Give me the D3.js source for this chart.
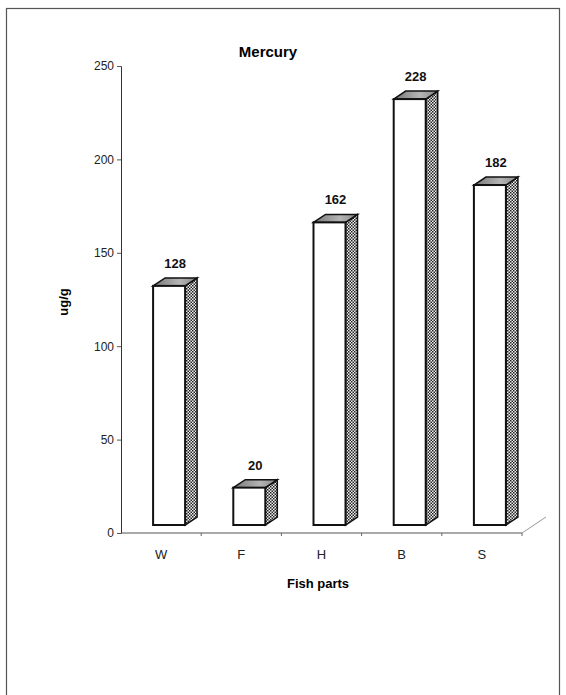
<!DOCTYPE html>
<html>
<head>
<meta charset="utf-8">
<script src="https://cdn.jsdelivr.net/npm/d3@7/dist/d3.min.js"></script>
<style>
  html, body { margin: 0; padding: 0; background: #fff; }
  svg { display: block; font-family: Arial, "Liberation Sans", sans-serif; }
</style>
</head>
<body>
<svg id="chart" width="566" height="695"></svg>
<script>
// Mercury concentration by fish part
const categories = ["W", "F", "H", "B", "S"];
const values = [128, 20, 162, 228, 182];
const yTicks = [0, 50, 100, 150, 200, 250];

const svg = d3.select("#chart");

// pseudo-3D geometry
const depthX = 12, depthY = 8;

const x = d3.scaleBand().domain(categories).range([121, 522]);
const y = d3.scaleLinear().domain([0, 250]).range([533, 66]);

// outer frame
svg.append("rect")
  .attr("x", 6.5).attr("y", 8.5).attr("width", 553).attr("height", 700)
  .attr("fill", "none").attr("stroke", "#555").attr("stroke-width", 1.2);

const defs = svg.append("defs");
const pat = defs.append("pattern")
  .attr("id", "checker").attr("patternUnits", "userSpaceOnUse")
  .attr("width", 3).attr("height", 3);
pat.append("rect").attr("width", 3).attr("height", 3).attr("fill", "#eee");
pat.append("rect").attr("width", 1.5).attr("height", 1.5).attr("fill", "#222");
pat.append("rect").attr("x", 1.5).attr("y", 1.5).attr("width", 1.5).attr("height", 1.5).attr("fill", "#222");

const topGrad = defs.append("linearGradient").attr("id", "topface")
  .attr("x1", 0).attr("x2", 1).attr("y1", 0).attr("y2", 0);
topGrad.append("stop").attr("offset", "0%").attr("stop-color", "#777");
topGrad.append("stop").attr("offset", "60%").attr("stop-color", "#b5b5b5");
topGrad.append("stop").attr("offset", "100%").attr("stop-color", "#888");

// title
svg.append("text")
  .attr("x", 268).attr("y", 57)
  .attr("text-anchor", "middle")
  .attr("font-size", 15).attr("font-weight", "bold")
  .text("Mercury");

// y axis
const yAxis = d3.axisLeft(y).tickValues(yTicks).tickSize(4).tickPadding(3);
const gy = svg.append("g").attr("transform", "translate(121,0)").call(yAxis);
gy.select(".domain").attr("stroke", "#333");
gy.selectAll(".tick line").attr("stroke", "#555");
gy.selectAll(".tick text").attr("font-size", 12).attr("fill", "#222")
  .attr("font-family", "Arial, 'Liberation Sans', sans-serif");

// x axis
const gx = svg.append("g").attr("transform", "translate(0,533)");
gx.append("line").attr("x1", 121).attr("x2", 522).attr("y1", 0).attr("y2", 0)
  .attr("stroke", "#555").attr("stroke-width", 1.2);
categories.forEach(c => {
  const bx = x(c) + x.bandwidth();
  gx.append("line").attr("x1", bx).attr("x2", bx).attr("y1", 0).attr("y2", 3)
    .attr("stroke", "#666");
});
gx.selectAll("text.cat").data(categories).join("text")
  .attr("class", "cat")
  .attr("x", d => x(d) + x.bandwidth() / 2)
  .attr("y", 26)
  .attr("text-anchor", "middle")
  .attr("font-size", 13).attr("fill", "#222")
  .text(d => d);

// floor edge receding from the end of the x axis
svg.append("line")
  .attr("x1", 522).attr("y1", 533).attr("x2", 546).attr("y2", 517)
  .attr("stroke", "#999").attr("stroke-width", 1);

// axis titles
svg.append("text")
  .attr("transform", "translate(68,302) rotate(-90)")
  .attr("text-anchor", "middle")
  .attr("font-size", 13).attr("font-weight", "bold")
  .text("ug/g");
svg.append("text")
  .attr("x", 318).attr("y", 588)
  .attr("text-anchor", "middle")
  .attr("font-size", 13).attr("font-weight", "bold")
  .text("Fish parts");

// bars
const barW = 32;
const frontBase = y(0) - depthY;
const bars = svg.append("g");
categories.forEach((c, i) => {
  const v = values[i];
  const x0 = x(c) + x.bandwidth() / 2 - 8;
  const x1 = x0 + barW;
  const yt = y(v) - depthY;
  const g = bars.append("g");

  // value label (drawn first so a short bar's top can overlap it)
  g.append("text")
    .attr("x", x0 + (barW + depthX) / 2)
    .attr("y", yt - depthY - 10)
    .attr("text-anchor", "middle")
    .attr("font-size", 13).attr("font-weight", "bold").attr("fill", "#111")
    .text(v);

  // side face
  g.append("path")
    .attr("d", `M${x1},${yt} L${x1 + depthX},${yt - depthY} L${x1 + depthX},${frontBase - depthY} L${x1},${frontBase} Z`)
    .attr("fill", "url(#checker)").attr("stroke", "#111").attr("stroke-width", 1.5);
  // top face
  g.append("path")
    .attr("d", `M${x0},${yt} L${x0 + depthX},${yt - depthY} L${x1 + depthX},${yt - depthY} L${x1},${yt} Z`)
    .attr("fill", "url(#topface)").attr("stroke", "#111").attr("stroke-width", 1.5);
  // front face
  g.append("rect")
    .attr("x", x0).attr("y", yt).attr("width", barW).attr("height", frontBase - yt)
    .attr("fill", "#fff").attr("stroke", "#111").attr("stroke-width", 2);
});
</script>
</body>
</html>
